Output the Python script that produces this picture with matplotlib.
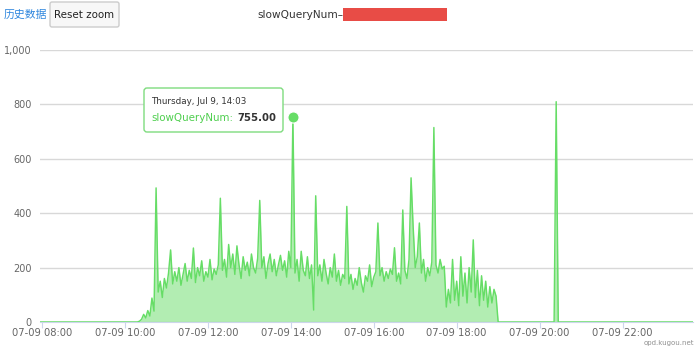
import numpy as np
import pandas as pd
import matplotlib
matplotlib.use("Agg")
import matplotlib.pyplot as plt
import matplotlib.dates as mdates
from matplotlib.patches import FancyBboxPatch, Rectangle
from matplotlib.transforms import IdentityTransform
from matplotlib.ticker import FuncFormatter

day = "2020-07-09"
t_start = pd.Timestamp(day + " 07:57")
t_end = pd.Timestamp(day + " 23:42")

# slow queries per 3 minutes, 10:15 .. 18:57
busy_start = pd.Timestamp(day + " 10:15")
busy_counts = [
    0, 0, 3, 10, 28, 15, 42, 22, 88, 40,            # 10:15-10:42
    493,                                            # 10:45
    110, 150, 90, 160, 125, 180, 265, 140, 185, 150,
    200, 135, 175, 215, 150, 190, 160, 272, 145, 200,
    170, 225, 150, 185, 165, 230, 155, 195, 175, 210,
    455,                                            # 12:18
    190, 230, 165, 285, 200, 250, 175, 280, 210, 160,
    240, 190, 220, 170, 250, 200, 180, 235,
    447,                                            # 13:15
    200, 240, 160, 215, 250, 185, 230, 170, 210, 245,
    190, 225, 165, 260, 200,
    755,                                            # 14:03
    180, 230, 150, 260, 190, 170, 240, 160, 210, 44,
    464,                                            # 14:36
    170, 210, 150, 230, 180, 140, 200, 165, 250, 150,
    190, 135, 175, 160,
    425,                                            # 15:21
    140, 175, 120, 160, 135, 200, 145, 110, 170, 150,
    210, 130, 165, 185,
    364,                                            # 16:06
    170, 200, 150, 185, 160, 195, 175,
    273,
    150, 180, 140,
    412,
    190, 160, 230,
    530,                                            # 16:54
    350, 200, 240, 364, 180, 230, 150, 200, 170, 220,
    715,                                            # 17:27
    210, 180, 230, 195, 205,
    55, 120, 70, 230, 80, 150, 60, 240, 95, 180,    # 17:45-
    70, 200, 110, 302, 90, 190, 60, 170, 80, 150,
    55, 130, 70, 120, 95,                           # -18:57
]
late_spike_time = pd.Timestamp(day + " 20:24")
late_spike_count = 810

y_ticks = [0, 200, 400, 600, 800, 1000]
series_name = "slowQueryNum"

line_c = "#66dd66"
grid_c = "#d8d8d8"
label_c = "#666666"

times = pd.date_range(t_start, t_end, freq="3min")
counts = np.zeros(len(times))
i0 = times.get_loc(busy_start)
counts[i0:i0 + len(busy_counts)] = busy_counts
counts[times.get_loc(late_spike_time)] = late_spike_count

W, H = 700, 350
fig = plt.figure(figsize=(W / 100, H / 100), dpi=100)
ax = fig.add_axes([40 / W, 1 - 322 / H, 653 / W, 272 / H])

ax.fill_between(times, counts, 0, color=line_c, alpha=0.5, lw=0, zorder=2)
ax.plot(times, counts, color=line_c, lw=1.05, zorder=3)

# hovered point
ipk = int(np.argmax(np.where(times < late_spike_time, counts, 0)))
pk_t, pk_v = times[ipk], counts[ipk]
ax.plot(pk_t, pk_v, "o", ms=8, color=line_c, mec="white", mew=0.8, zorder=6, clip_on=False)

ax.set_xlim(t_start, t_end)
ax.set_ylim(0, 1000)
ax.set_yticks(y_ticks)
ax.yaxis.set_major_formatter(FuncFormatter(lambda v, p: f"{int(v):,}"))
ax.xaxis.set_major_locator(mdates.HourLocator(byhour=range(8, 24, 2)))
ax.xaxis.set_major_formatter(mdates.DateFormatter("%m-%d %H:%M"))
ax.grid(axis="y", color=grid_c, lw=1, zorder=0)
ax.set_axisbelow(True)
for s in ["top", "right", "left"]:
    ax.spines[s].set_visible(False)
ax.spines["bottom"].set_color("#ccd6eb")
ax.tick_params(axis="y", length=0, pad=6, labelsize=7, labelcolor=label_c)
ax.tick_params(axis="x", length=4, color="#ccd6eb", pad=0, labelsize=7.2, labelcolor=label_c)

px = IdentityTransform()

# header
fig.text(4, H - 15, "历史数据", transform=px, fontsize=7.8, color="#2e86de",
         family=["Noto Sans CJK SC", "DejaVu Sans"], va="center")
fig.patches.append(FancyBboxPatch((50, H - 27), 69, 25, boxstyle="round,pad=0,rounding_size=2",
                                  fc="#f7f7f7", ec="#cccccc", lw=1, transform=px))
fig.text(84.5, H - 15, "Reset zoom", transform=px, fontsize=7.4, color="#222222",
         ha="center", va="center")
fig.text(343, H - 15, series_name + "–", transform=px, fontsize=7.6, color="#333333",
         ha="right", va="center")
fig.patches.append(Rectangle((343, H - 21), 104, 13, fc="#e84c46", ec="none", transform=px))

# tooltip
fig.patches.append(FancyBboxPatch((144, H - 132), 139, 44, boxstyle="round,pad=0,rounding_size=3",
                                  fc="white", ec="#7fdc7f", lw=1, transform=px))
tip_date = f"{pk_t:%A}, {pk_t:%b} {pk_t.day}, {pk_t:%H:%M}"
fig.text(151, H - 102, tip_date, transform=px, fontsize=6.3, color="#333333", va="center")
fig.text(151, H - 118, series_name + ":", transform=px, fontsize=7.4, color="#4fcf4f", va="center")
fig.text(237, H - 118, f"{pk_v:.2f}", transform=px, fontsize=7.3, color="#333333",
         weight="bold", va="center")

fig.text(694, H - 343, "opd.kugou.net", transform=px, fontsize=5, color="#909090",
         ha="right", va="center")

fig.savefig("out.png", dpi=100)
